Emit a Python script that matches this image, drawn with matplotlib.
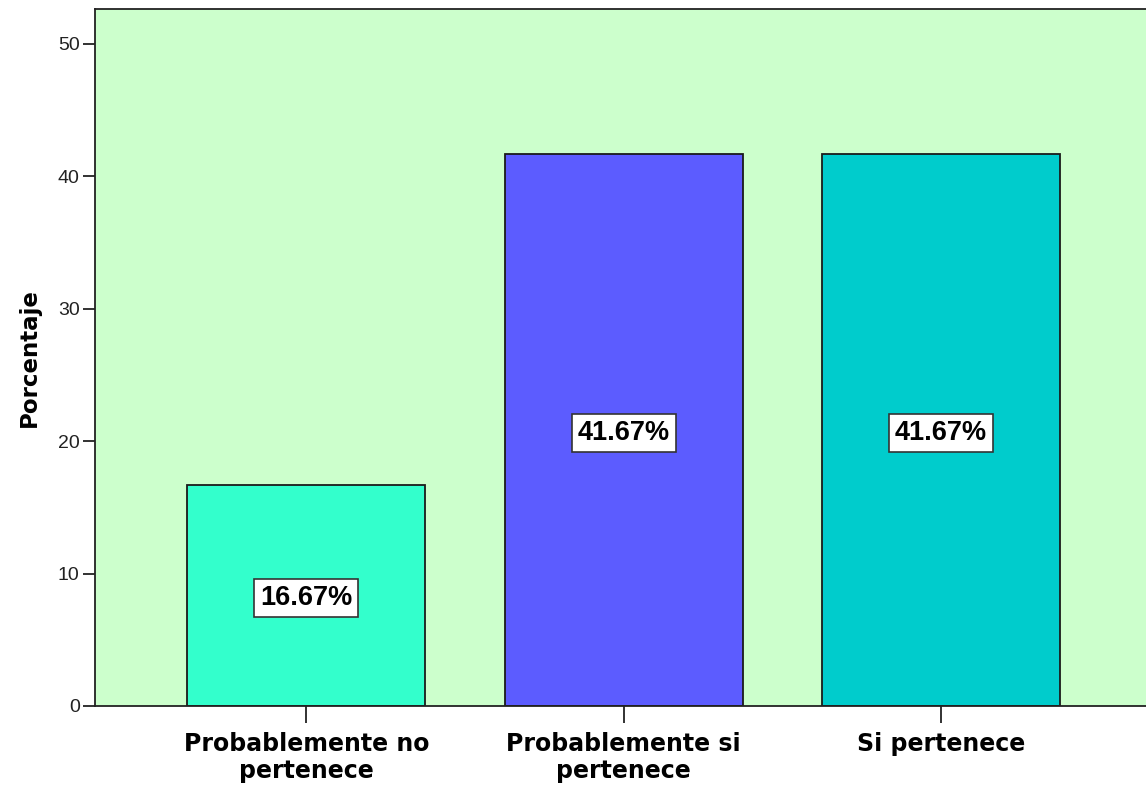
import matplotlib.pyplot as plt
import numpy as np

categories = ['Probablemente no\npertenece', 'Probablemente si\npertenece', 'Si pertenece']
percentages = [16.67, 41.67, 41.67]
bar_colors = ['#33FFCC', '#5C5CFF', '#00CCCC']
y_ticks = [0, 10, 20, 30, 40, 50]

fig = plt.figure(figsize=(11.46, 7.85), dpi=100)
ax = fig.add_axes([95/1146, 1 - 706/785, 1 - 95/1146 + 0.01, (706 - 9)/785])
ax.set_facecolor('#CCFFCC')

x = np.arange(len(categories))
bars = ax.bar(x, percentages, width=0.75, color=bar_colors, edgecolor='#1a1a1a', linewidth=1.3, zorder=2)

for rect, val in zip(bars, percentages):
    ax.text(rect.get_x() + rect.get_width()/2, val/2 - 0.2, '%.2f%%' % val,
            ha='center', va='center', fontsize=19.5, fontweight='bold',
            family='Liberation Sans', color='black', zorder=3,
            bbox=dict(boxstyle='square,pad=0.22', facecolor='white', edgecolor='#333333', linewidth=1.2))

ax.set_xlim(-0.6656, -0.6656 + 1061/317)
ax.set_ylim(0, 52.64)
ax.set_yticks(y_ticks)
ax.set_yticklabels([str(t) for t in y_ticks], family='Liberation Sans', fontsize=14, color='#222222')
ax.set_xticks(x)
ax.set_xticklabels(categories, family='DejaVu Sans', fontweight='bold', fontsize=17, linespacing=1.15)
ax.tick_params(axis='y', direction='out', length=9, width=1.3, color='#222222', pad=2)
ax.tick_params(axis='x', direction='out', length=12, width=1.3, color='#222222', pad=7)

ax.spines['right'].set_visible(False)
for s in ['left', 'bottom', 'top']:
    ax.spines[s].set_color('#222222')
    ax.spines[s].set_linewidth(1.3)

ax.set_ylabel('Porcentaje', family='DejaVu Sans', fontweight='bold', fontsize=16.5, labelpad=12)

plt.savefig('out.png', dpi=100)
